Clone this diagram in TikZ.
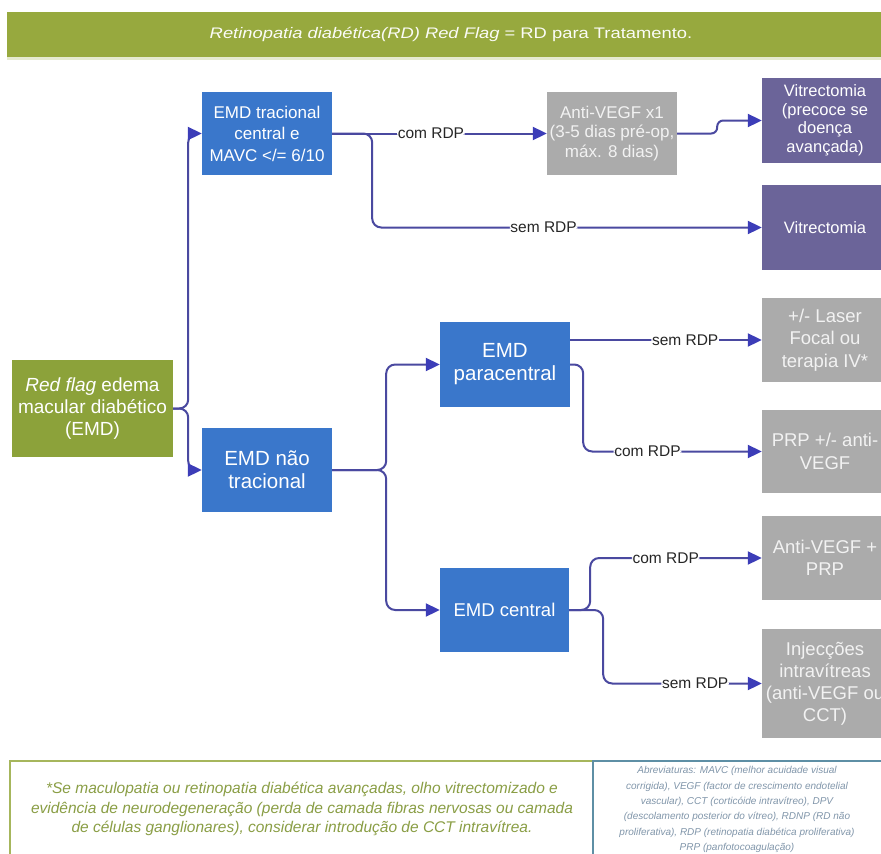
\documentclass[tikz,border=0pt]{standalone}
\usepackage{fontspec}
\setmainfont{Liberation Sans}
\usetikzlibrary{arrows.meta}
\definecolor{hdrgreen}{HTML}{97A93E}
\definecolor{rfgreen}{HTML}{8CA23A}
\definecolor{bluebx}{HTML}{3A77CB}
\definecolor{purplebx}{HTML}{6B6499}
\definecolor{greybx}{HTML}{ABABAB}
\definecolor{greytxt}{HTML}{F2F2F2}
\definecolor{connc}{HTML}{4A49A0}
\definecolor{arrc}{HTML}{3C3DB8}
\definecolor{footgreen}{HTML}{A6B65C}
\definecolor{foottxtg}{HTML}{8A9E45}
\definecolor{footblue}{HTML}{5E8FA5}
\definecolor{foottxtb}{HTML}{8196AA}
\newcommand\myfs[2]{\fontsize{#1}{#2}\selectfont}
\begin{document}
\begin{tikzpicture}[x=1pt,y=-1pt,
  boxbase/.style={inner sep=0pt, align=center, text=white},
  bluebox/.style={boxbase, fill=bluebx, minimum width=130pt, minimum height=84pt},
  purplebox/.style={boxbase, fill=purplebx, minimum width=126pt, minimum height=85pt, font=\myfs{16.5}{18.5}},
  greybox/.style={boxbase, fill=greybx, text=greytxt, minimum width=126pt, minimum height=84pt, font=\myfs{18.5}{22.5}},
  conn/.style={draw=connc, line width=2pt, rounded corners=9pt, -{Triangle[length=14pt,width=13pt,color=arrc]}},
  lbl/.style={fill=white, inner sep=0.6pt, text=black!85, font=\myfs{15.5}{17}}
]
\clip (0,0) rectangle (881,854);
\fill[white] (0,0) rectangle (881,854);

% header
\fill[hdrgreen] (7,12) rectangle (890,57);
\fill[hdrgreen!25] (7,57) rectangle (890,60);
\node[text=white!96!hdrgreen, font=\myfs{15.3}{18}] (hdr) at (451,34)
  {\scalebox{1.2}[1]{\textit{Retinopatia diabética(RD) Red Flag} = RD para Tratamento.}};

% nodes
\node[boxbase, fill=rfgreen, minimum width=161pt, minimum height=97pt, font=\myfs{19}{22}] (rf) at (92.5,408.5)
  {\textit{Red flag} edema\\macular diabético\\(EMD)};
\node[bluebox, minimum height=83pt, font=\myfs{17}{21.5}] (trac) at (267,133.5)
  {EMD tracional\\central e\\MAVC </= 6/10};
\node[bluebox, font=\myfs{20.5}{23}] (naotrac) at (267,470)
  {EMD não\\tracional};
\node[bluebox, minimum height=85pt, font=\myfs{20.5}{23}] (para) at (505,364.5)
  {EMD\\paracentral};
\node[bluebox, minimum width=129pt, font=\myfs{18.5}{22}] (central) at (504.5,610)
  {EMD central};
\node[greybox, minimum width=130pt, minimum height=83pt, font=\myfs{17}{19.5}] (antiv1) at (612,133.5)
  {Anti-VEGF x1\\(3-5 dias pré-op,\\máx. 8 dias)};
\node[purplebox] (vit1) at (825,120.5)
  {Vitrectomia\\(precoce se\\doença\\avançada)};
\node[purplebox] (vit2) at (825,227.5) {Vitrectomia};
\node[greybox] (laser) at (825,340) {+/- Laser\\Focal ou\\terapia IV*};
\node[greybox, minimum height=83pt] (prp) at (825,451.5) {PRP +/- anti-\\VEGF};
\node[greybox] (avprp) at (825,558) {Anti-VEGF +\\PRP};
\node[greybox, minimum height=109pt, font=\myfs{18.5}{22}] (inj) at (825,683.5)
  {Injecções\\intravítreas\\(anti-VEGF ou\\CCT)};

% connectors
\draw[conn] (rf.east) -- ++(15,0) |- (trac.west);
\draw[conn] (rf.east) -- ++(15,0) |- (naotrac.west);
\draw[conn] (trac.east) -- node[lbl, pos=0.46]{com RDP} (antiv1.west);
\draw[conn] (trac.east) -- ++(40,0) |- node[lbl, pos=0.72]{sem RDP} (vit2.west);
\draw[conn, rounded corners=6pt] (antiv1.east) -- ++(40,0) |- (vit1.west);
\draw[conn] (naotrac.east) -- ++(54,0) |- (para.west);
\draw[conn] (naotrac.east) -- ++(54,0) |- (central.west);
\draw[conn] (para.east |- laser.west) -- node[lbl, pos=0.6]{sem RDP} (laser.west);
\draw[conn] (para.east) -- ++(13,0) |- node[lbl, pos=0.68]{com RDP} (prp.west);
\draw[conn] (central.east) -- ++(21,0) |- node[lbl, pos=0.72]{com RDP} (avprp.west);
\draw[conn] (central.east) -- ++(34,0) |- node[lbl, pos=0.79]{sem RDP} (inj.west);

% footer
\draw[footgreen, line width=1.8pt] (10,761) rectangle (593,880);
\draw[footblue, line width=1.8pt] (593,761) rectangle (895,880);
\node[align=center, text=foottxtg, font=\myfs{15.5}{19.5}\itshape] (note) at (302,809)
  {*Se maculopatia ou retinopatia diabética avançadas, olho vitrectomizado e\\
   evidência de neurodegeneração (perda de camada fibras nervosas ou camada\\
   de células ganglionares), considerar introdução de CCT intravítrea.};
\node[align=center, text=foottxtb, font=\myfs{10}{15.3}\itshape] (abrev) at (737,809.5)
  {Abreviaturas: MAVC (melhor acuidade visual\\
   corrigida), VEGF (factor de crescimento endotelial\\
   vascular), CCT (corticóide intravítreo), DPV\\
   (descolamento posterior do vítreo), RDNP (RD não\\
   proliferativa), RDP (retinopatia diabética proliferativa)\\
   PRP (panfotocoagulação)};
\end{tikzpicture}
\end{document}
